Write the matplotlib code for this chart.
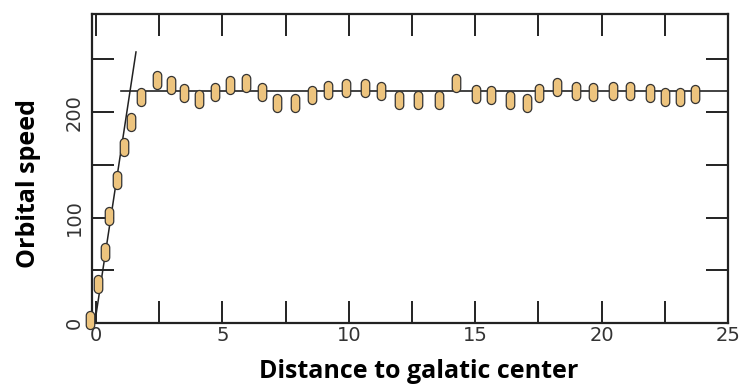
import numpy as np
import matplotlib.pyplot as plt
from matplotlib.path import Path
from matplotlib.ticker import MultipleLocator

# values
distance = [-0.24, 0.08, 0.35, 0.51, 0.83, 1.10, 1.38, 1.77, 2.40, 2.95,
            3.46, 4.06, 4.72, 5.31, 5.94, 6.57, 7.17, 7.87, 8.54, 9.17,
            9.88, 10.63, 11.26, 11.97, 12.72, 13.58, 14.25, 15.04, 15.63, 16.38,
            17.05, 17.52, 18.23, 18.98, 19.65, 20.47, 21.14, 21.93, 22.52, 23.11,
            23.70]
speed = [3, 37, 67, 101, 136, 167, 191, 214, 230, 226,
         218, 212, 219, 226, 228, 219, 209, 209, 216, 221,
         223, 223, 220, 211, 211, 211, 228, 217, 216, 211,
         209, 218, 224, 220, 219, 220, 220, 218, 214, 214,
         217]

# fitted lines: solid-body rise and flat rotation curve
rise_x = [-0.05, 1.58]
rise_y = [0, 257]
flat_x = [1.0, 25.0]
flat_y = [220, 220]

x_ticks = [0, 5, 10, 15, 20, 25]
y_ticks = [0, 100, 200]

# capsule shaped marker
w, h = 0.47, 1.0
r = w / 2
top = Path.arc(0, 180)
bot = Path.arc(180, 360)
v_top = top.vertices * r + [0, h / 2 - r]
v_bot = bot.vertices * r - [0, h / 2 - r]
codes = list(top.codes) + [Path.LINETO] + list(bot.codes[1:]) + [Path.CLOSEPOLY]
verts = np.vstack([v_top, v_bot, [[0, 0]]])
capsule = Path(verts, codes)

fig = plt.figure(figsize=(7.42, 3.9), dpi=100)
ax = fig.add_axes([92 / 742, 67 / 390, 636 / 742, 309 / 390])

ax.plot(rise_x, rise_y, color='#222222', lw=1.1, zorder=2)
ax.plot(flat_x, flat_y, color='#222222', lw=1.2, zorder=2)
ax.plot(distance, speed, linestyle='none', marker=capsule, markersize=13,
        markerfacecolor='#EDC47E', markeredgecolor='#333333', markeredgewidth=0.9,
        zorder=3, clip_on=False)

ax.set_xlim(-0.16, 24.9)
ax.set_ylim(0, 293)
ax.set_xticks(x_ticks)
ax.set_yticks(y_ticks)
ax.xaxis.set_minor_locator(MultipleLocator(2.5))
ax.yaxis.set_minor_locator(MultipleLocator(50))

for s in ax.spines.values():
    s.set_linewidth(1.6)
    s.set_color('#222222')

ax.tick_params(which='both', direction='in', length=16, width=1.4, color='#222222',
               top=True, right=True)
ax.tick_params(axis='x', pad=2)
ax.tick_params(axis='y', pad=6, labelrotation=90)
for lab in ax.get_xticklabels() + ax.get_yticklabels():
    lab.set_family(['DejaVu Sans'])
    lab.set_fontsize(14)
    lab.set_color('#333333')
for lab in ax.get_yticklabels():
    lab.set_verticalalignment('center')

ax.set_xlabel('Distance to galatic center', family=['Open Sans', 'DejaVu Sans'],
              fontweight='bold', fontsize=18)
ax.set_ylabel('Orbital speed', family=['Open Sans', 'DejaVu Sans'],
              fontweight='bold', fontsize=18)
ax.xaxis.set_label_coords(0.513, -0.115)
ax.yaxis.set_label_coords(-0.08, 0.45)

plt.savefig('out.png', dpi=100)
